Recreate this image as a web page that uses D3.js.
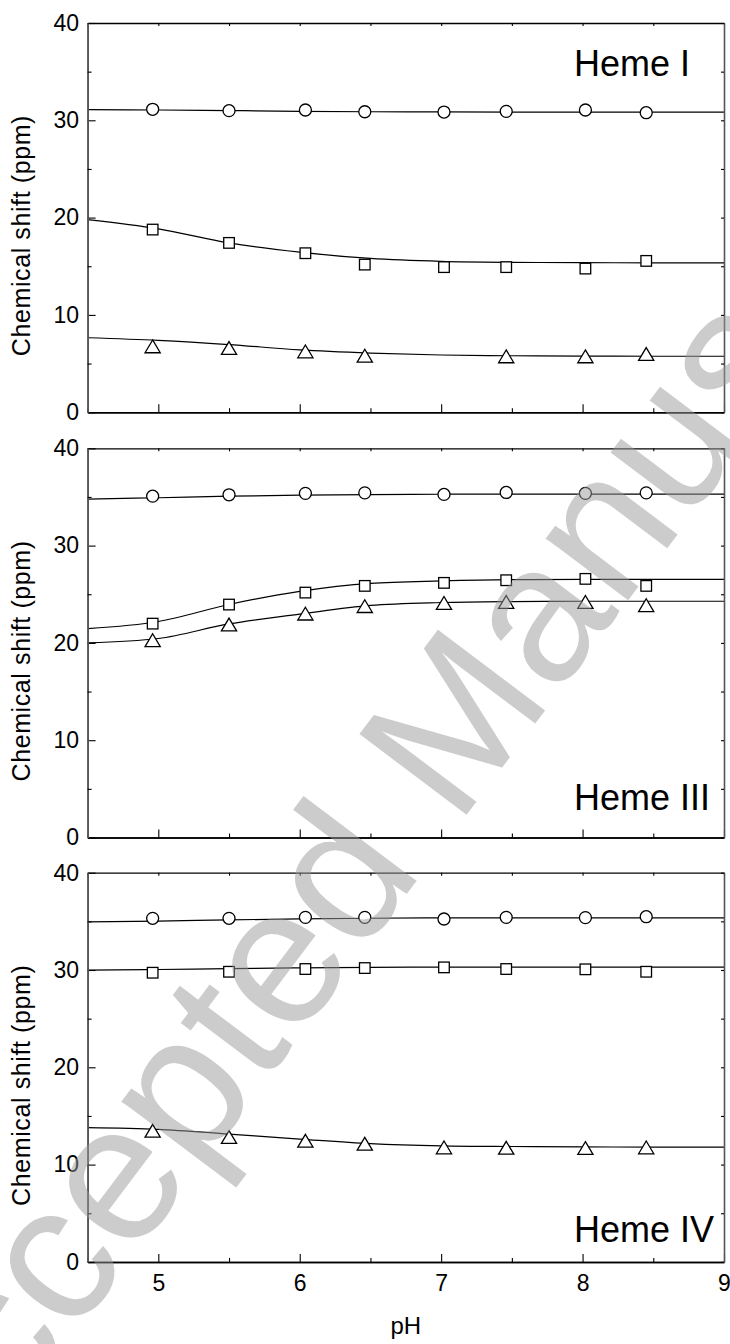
<!DOCTYPE html>
<html lang="en">
    <head>
        <meta charset="UTF-8" />
        <title>Chemical shift vs pH</title>
        <style>
            body {
                margin: 0;
                padding: 0;
                background-color: #ffffff;
            }
            svg text {
                font-family: 'Liberation Sans', Arial, sans-serif;
            }
        </style>
    </head>
    <body>
        <div id="chart"></div>
        <script src="https://d3js.org/d3.v7.min.js"></script>
        <script>
            // measured pH of the samples (same for all three hemes)
            const pH = [4.96, 5.5, 6.04, 6.46, 7.02, 7.46, 8.02, 8.45];
            // pH grid the fitted curves were read on
            const fitPH = [4.5, 5.0, 5.5, 6.0, 6.5, 7.0, 7.5, 8.0, 8.5, 9.0];

            const hemeNames = ['Heme I', 'Heme III', 'Heme IV'];

            // Heme I
            const heme1Circle = [31.13, 30.99, 31.06, 30.88, 30.85, 30.92, 31.06, 30.78];
            const heme1Square = [18.77, 17.4, 16.34, 15.17, 14.91, 14.91, 14.76, 15.55];
            const heme1Triangle = [6.76, 6.59, 6.24, 5.8, null, 5.73, 5.73, 5.97];
            const heme1CircleFit = [31.1, 31.06, 31.0, 30.92, 30.88, 30.86, 30.85, 30.85, 30.85, 30.85];
            const heme1SquareFit = [19.8, 18.85, 17.4, 16.45, 15.8, 15.5, 15.4, 15.37, 15.35, 15.35];
            const heme1TriangleFit = [7.65, 7.38, 6.95, 6.4, 6.08, 5.88, 5.8, 5.77, 5.75, 5.75];

            // Heme III
            const heme3Circle = [35.08, 35.22, 35.37, 35.42, 35.26, 35.46, 35.37, 35.42];
            const heme3Square = [21.98, 23.94, 25.17, 25.86, 26.17, 26.44, 26.58, 25.86];
            const heme3Triangle = [20.27, 21.88, 23.0, 23.77, 24.1, 24.2, 24.2, 23.87];
            const heme3CircleFit = [34.77, 34.92, 35.08, 35.18, 35.24, 35.28, 35.3, 35.3, 35.3, 35.3];
            const heme3SquareFit = [21.47, 22.2, 23.95, 25.3, 26.12, 26.37, 26.5, 26.52, 26.52, 26.52];
            const heme3TriangleFit = [20.0, 20.45, 21.95, 22.95, 23.85, 24.15, 24.25, 24.28, 24.28, 24.28];

            // Heme IV
            const heme4Circle = [35.31, 35.31, 35.41, 35.41, 35.24, 35.41, 35.38, 35.48];
            const heme4Square = [29.72, 29.82, 30.1, 30.2, 30.27, 30.1, 30.07, 29.82];
            const heme4Triangle = [13.47, 12.82, 12.44, 12.13, 11.76, 11.72, 11.69, 11.76];
            const heme4CircleFit = [34.95, 35.03, 35.15, 35.25, 35.32, 35.36, 35.36, 35.36, 35.36, 35.36];
            const heme4SquareFit = [29.98, 30.05, 30.15, 30.22, 30.28, 30.3, 30.3, 30.3, 30.3, 30.3];
            const heme4TriangleFit = [13.8, 13.63, 13.13, 12.62, 12.15, 11.93, 11.86, 11.82, 11.8, 11.8];

            const xMajor = [5, 6, 7, 8, 9];
            const xMinor = [4.5, 5.5, 6.5, 7.5, 8.5];
            const yMajor = [0, 10, 20, 30, 40];
            const yMinor = [5, 15, 25, 35];

            const panels = [
                { name: hemeNames[0], circle: heme1Circle, square: heme1Square, triangle: heme1Triangle, circleFit: heme1CircleFit, squareFit: heme1SquareFit, triangleFit: heme1TriangleFit },
                { name: hemeNames[1], circle: heme3Circle, square: heme3Square, triangle: heme3Triangle, circleFit: heme3CircleFit, squareFit: heme3SquareFit, triangleFit: heme3TriangleFit },
                { name: hemeNames[2], circle: heme4Circle, square: heme4Square, triangle: heme4Triangle, circleFit: heme4CircleFit, squareFit: heme4SquareFit, triangleFit: heme4TriangleFit }
            ];

            const W = 730, H = 1344;
            const left = 87.6, right = 724;
            const tops = [23, 448.3, 872.7];
            const ph = 389.2;
            const labelPos = [{ x: 574, y: 76 }, { x: 574, y: 810 }, { x: 574, y: 1241.7 }];

            const svg = d3.select('#chart').append('svg').attr('width', W).attr('height', H);

            const x = d3.scaleLinear().domain([4.5, 9]).range([left, right]);

            const line = d3.line().defined((d) => d[1] != null).curve(d3.curveMonotoneX);

            panels.forEach((p, i) => {
                const top = tops[i];
                const y = d3.scaleLinear().domain([0, 40]).range([top + ph, top]);
                line.x((d) => x(d[0])).y((d) => y(d[1]));
                const g = svg.append('g');

                // fitted curves
                [p.circleFit, p.squareFit, p.triangleFit].forEach((fit) => {
                    g.append('path')
                        .datum(fitPH.map((v, k) => [v, fit[k]]))
                        .attr('fill', 'none')
                        .attr('stroke', '#000')
                        .attr('stroke-width', 1.2)
                        .attr('d', line);
                });

                const pts = (arr) => pH.map((v, k) => [v, arr[k]]).filter((d) => d[1] != null);

                g.selectAll('.c')
                    .data(pts(p.circle))
                    .join('circle')
                    .attr('cx', (d) => x(d[0]))
                    .attr('cy', (d) => y(d[1]))
                    .attr('r', 6)
                    .attr('fill', '#fff')
                    .attr('stroke', '#000')
                    .attr('stroke-width', 1.3);

                g.selectAll('.s')
                    .data(pts(p.square))
                    .join('rect')
                    .attr('x', (d) => x(d[0]) - 5.3)
                    .attr('y', (d) => y(d[1]) - 5.3)
                    .attr('width', 10.6)
                    .attr('height', 10.6)
                    .attr('fill', '#fff')
                    .attr('stroke', '#000')
                    .attr('stroke-width', 1.3);

                g.selectAll('.t')
                    .data(pts(p.triangle))
                    .join('path')
                    .attr('transform', (d) => `translate(${x(d[0])},${y(d[1])})`)
                    .attr('d', 'M0,-6.5L7.6,6.3L-7.6,6.3Z')
                    .attr('fill', '#fff')
                    .attr('stroke', '#000')
                    .attr('stroke-width', 1.3);

                // frame: bottom (inward ticks), top, left, right
                const bottom = g.append('g').attr('transform', `translate(0,${top + ph})`);
                bottom.call(d3.axisBottom(x).tickValues(xMajor).tickSize(-8).tickSizeOuter(0).tickPadding(13).tickFormat(i === 2 ? d3.format('d') : () => ''));
                bottom.append('g').call(d3.axisBottom(x).tickValues(xMinor).tickSize(-4).tickSizeOuter(0).tickFormat(() => ''));

                const topAx = g.append('g').attr('transform', `translate(0,${top})`);
                topAx.call(d3.axisTop(x).tickValues(xMajor.concat(xMinor)).tickSize(-3).tickSizeOuter(0).tickFormat(() => ''));

                const leftAx = g.append('g').attr('transform', `translate(${left},0)`);
                leftAx.call(d3.axisLeft(y).tickValues(yMajor).tickSize(-8).tickSizeOuter(0).tickPadding(8.5).tickFormat(d3.format('d')));
                leftAx.append('g').call(d3.axisLeft(y).tickValues(yMinor).tickSize(-4).tickSizeOuter(0).tickFormat(() => ''));

                const rightAx = g.append('g').attr('transform', `translate(${right},0)`);
                rightAx.call(d3.axisRight(y).tickValues(yMajor.concat(yMinor)).tickSize(-3).tickSizeOuter(0).tickFormat(() => ''));

                g.selectAll('.tick line').attr('stroke', '#000').attr('stroke-width', 1.1);
                g.selectAll('.tick text').attr('fill', '#000').style('font-size', '23px').style('font-family', "'Liberation Sans', Arial, sans-serif");
                bottom.selectAll('.domain').attr('stroke', '#000').attr('stroke-width', 1.5);
                topAx.selectAll('.domain').attr('stroke', '#000').attr('stroke-width', 1.3);
                leftAx.selectAll('.domain').attr('stroke', '#555').attr('stroke-width', 1.6);
                rightAx.selectAll('.domain').attr('stroke', '#555').attr('stroke-width', 1.6);

                g.append('text')
                    .attr('x', labelPos[i].x)
                    .attr('y', labelPos[i].y)
                    .style('font-size', '36px')
                    .text(p.name);

                g.append('text')
                    .attr('transform', `translate(30,${top + ph / 2 + 18}) rotate(-90)`)
                    .attr('text-anchor', 'middle')
                    .style('font-size', '25px')
                    .style('letter-spacing', '0.6px')
                    .text('Chemical shift (ppm)');
            });

            svg.append('text')
                .attr('x', (left + right) / 2)
                .attr('y', 1334)
                .attr('text-anchor', 'middle')
                .style('font-size', '24px')
                .text('pH');

            // journal watermark
            svg.append('text')
                .attr('transform', 'translate(-65,1520) rotate(-53)')
                .style('font-size', '195px')
                .attr('fill', '#999')
                .attr('fill-opacity', 0.5)
                .text('Accepted Manuscript');
        </script>
    </body>
</html>
